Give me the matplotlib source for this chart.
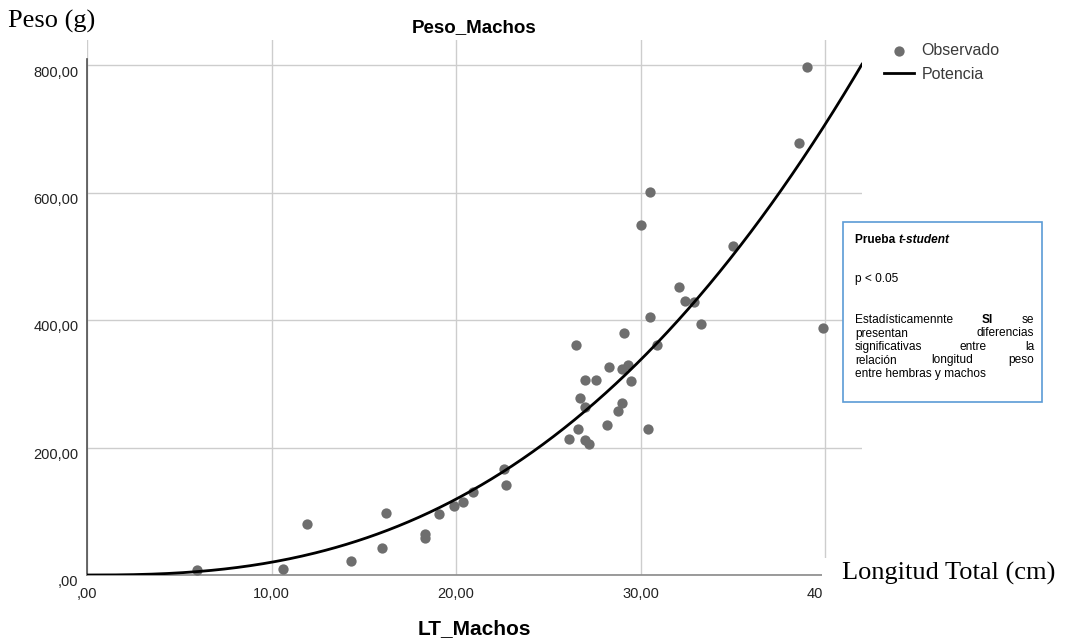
import matplotlib
matplotlib.use("Agg")
import matplotlib.pyplot as plt
import numpy as np
from matplotlib.patches import Rectangle
from matplotlib.transforms import ScaledTranslation

lt_machos = [5.96, 10.6, 11.9, 14.3, 16.0, 16.2, 18.3, 18.3, 19.1, 19.9,
             20.4, 20.9, 22.6, 22.7, 26.1, 26.5, 26.6, 26.7, 27.0, 27.0,
             27.0, 27.2, 27.6, 28.2, 28.3, 28.8, 29.0, 29.0, 29.1, 29.3,
             29.5, 30.0, 30.4, 30.5, 30.5, 30.9, 32.1, 32.4, 32.9, 33.3,
             35.0, 38.6, 39.0, 39.9]
peso_machos = [8, 10, 80, 22, 42, 97, 64, 58, 96, 108,
               115, 130, 166, 141, 213, 361, 229, 278, 306, 263,
               212, 206, 306, 236, 327, 258, 324, 270, 380, 329,
               304, 549, 230, 601, 405, 361, 452, 430, 429, 394,
               517, 679, 797, 388]

# power curve W = a * L^b as drawn on the chart
POT_A = 0.054
POT_B = 2.57

x_ticks = [0, 10, 20, 30, 40]
y_ticks = [0, 200, 400, 600, 800]

W, H = 1065, 642
SANS = "Liberation Sans"
SERIF = "Liberation Serif"


def fx(px):
    return px / W


def fy(py):
    return 1 - py / H


def fmt(v):
    s = f"{v:.2f}".replace(".", ",")
    return s[1:] if s.startswith("0,") else s


fig = plt.figure(figsize=(W / 100, H / 100), dpi=100)
ax = fig.add_axes([fx(87), fy(575), fx(862) - fx(87), fy(40) - fy(575)])
ax.set_xlim(0, 42)
ax.set_ylim(0, 840)

ax.grid(True, color="#cdcdcd", linewidth=1.0)
ax.set_axisbelow(True)
for side in ("top", "right"):
    ax.spines[side].set_visible(False)
ax.spines["left"].set_color("#505050")
ax.spines["left"].set_linewidth(1.2)
ax.spines["left"].set_bounds(0, 810)
ax.spines["bottom"].set_color("#8a8a8a")
ax.spines["bottom"].set_linewidth(1.2)

ax.set_xticks(x_ticks)
ax.set_xticklabels([fmt(v) for v in x_ticks])
ax.set_yticks(y_ticks)
ax.set_yticklabels([fmt(v) for v in y_ticks])
ax.tick_params(length=0, labelsize=10.5, colors="#222222")
ax.tick_params(axis="x", pad=9)
ax.tick_params(axis="y", pad=6)
for lab in ax.get_xticklabels() + ax.get_yticklabels():
    lab.set_fontfamily(SANS)
off = ScaledTranslation(0, -4 / 72, fig.dpi_scale_trans)
for lab in ax.get_yticklabels():
    lab.set_transform(lab.get_transform() + off)

xs = np.linspace(0, 42, 300)
ax.scatter(lt_machos, peso_machos, s=55, color="#6e6e6e", zorder=3,
           linewidths=0, label="Observado")
ax.plot(xs, POT_A * xs ** POT_B, color="black", linewidth=2.0, zorder=4,
        label="Potencia")

ax.set_title("Peso_Machos", fontfamily=SANS, fontweight="bold", fontsize=13.5, pad=6)
fig.text(fx(474), fy(629), "LT_Machos", fontfamily=SANS, fontweight="bold",
         fontsize=15, ha="center", va="center")

leg = fig.legend(loc="upper left", bbox_to_anchor=(fx(884), fy(43)), frameon=False,
                 prop={"family": SANS, "size": 11.5}, handlelength=1.9,
                 handletextpad=0.45, labelspacing=0.55, borderpad=0, borderaxespad=0)
for t in leg.get_texts():
    t.set_color("#3a3a3a")

# serif annotations added on top of the chart
fig.patches.append(Rectangle((fx(822), fy(606)), fx(1065) - fx(822), fy(558) - fy(606),
                             transform=fig.transFigure, facecolor="white",
                             edgecolor="none", zorder=5))
fig.text(fx(842), fy(580), "Longitud Total (cm)", fontfamily=SERIF, fontsize=19,
         va="baseline", zorder=6)
fig.text(fx(8), fy(28), "Peso (g)", fontfamily=SERIF, fontsize=19, va="baseline")

# text box with the t-student result
fig.patches.append(Rectangle((fx(843), fy(402)), fx(1042) - fx(843), fy(222) - fy(402),
                             transform=fig.transFigure, facecolor="white",
                             edgecolor="#5b9bd5", linewidth=1.2, zorder=5))
renderer = fig.canvas.get_renderer()
left, right = 855, 1034
fs = 8.6


def width_px(t):
    return t.get_window_extent(renderer=renderer).width


t1 = fig.text(fx(left), fy(243), "Prueba ", fontfamily=SANS, fontsize=fs,
              fontweight="bold", va="baseline", zorder=6)
fig.text(fx(left + width_px(t1)), fy(243), "t-student", fontfamily=SANS, fontsize=fs,
         fontweight="bold", fontstyle="italic", va="baseline", zorder=6)
fig.text(fx(left), fy(282), "p < 0.05", fontfamily=SANS, fontsize=fs,
         va="baseline", zorder=6)

lines = [
    [("Estadísticamennte", "normal"), ("SI", "bold"), ("se", "normal")],
    [("presentan", "normal"), ("diferencias", "normal")],
    [("significativas", "normal"), ("entre", "normal"), ("la", "normal")],
    [("relación", "normal"), ("longitud", "normal"), ("peso", "normal")],
]
line_y = [323, 336.5, 350, 363.5, 377]
for words, y in zip(lines, line_y):
    texts = [fig.text(0, fy(y), w, fontfamily=SANS, fontsize=fs, fontweight=wt,
                      va="baseline", zorder=6) for w, wt in words]
    widths = [width_px(t) for t in texts]
    gap = (right - left - sum(widths)) / (len(texts) - 1)
    xpos = left
    for t, wd in zip(texts, widths):
        t.set_x(fx(xpos))
        xpos += wd + gap
fig.text(fx(left), fy(line_y[-1]), "entre hembras y machos", fontfamily=SANS,
         fontsize=fs, va="baseline", zorder=6)

fig.savefig("out.png", dpi=100)
